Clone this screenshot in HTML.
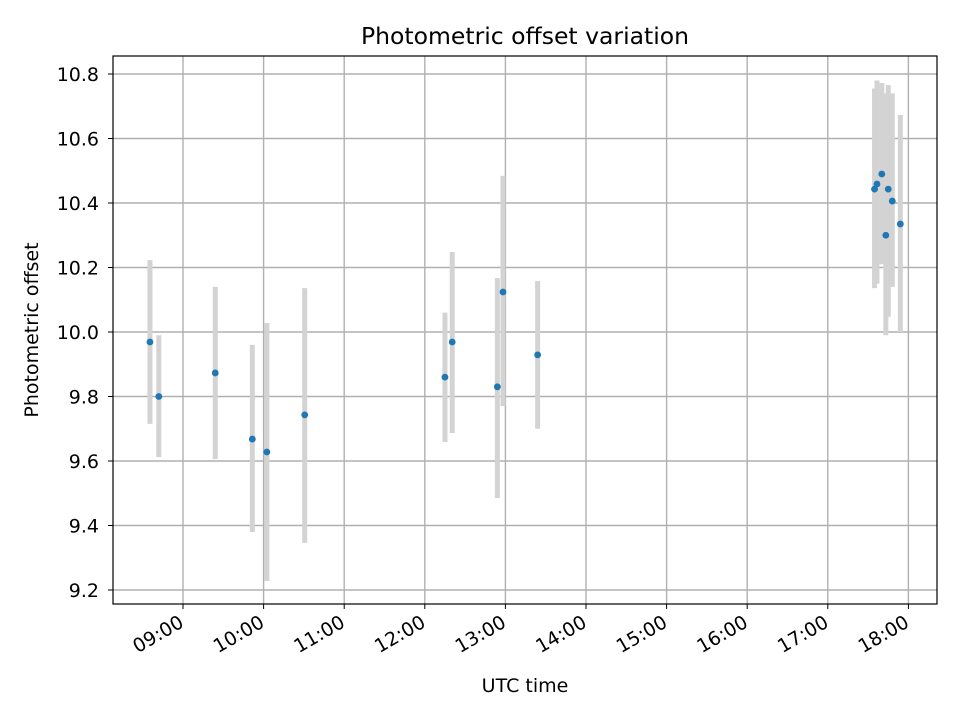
<!DOCTYPE html>
<html><head><meta charset="utf-8"><style>body{margin:0;background:#fff}svg{display:block;font-family:"DejaVu Sans","Liberation Sans",sans-serif}</style></head>
<body>
<svg id="chart" width="960" height="720"></svg>
<script>
const hours=[8.59,8.70,9.40,9.86,10.04,10.51,12.25,12.34,12.90,12.97,13.40,17.58,17.61,17.67,17.72,17.75,17.80,17.90];
const values=[9.969,9.80,9.873,9.668,9.628,9.743,9.86,9.969,9.83,10.124,9.929,10.443,10.459,10.49,10.30,10.443,10.406,10.335];
const highs=[10.223,9.99,10.14,9.96,10.028,10.136,10.06,10.248,10.167,10.484,10.158,10.755,10.78,10.772,10.74,10.766,10.74,10.673];
const lows=[9.715,9.612,9.606,9.38,9.228,9.346,9.659,9.687,9.485,9.77,9.70,10.136,10.15,10.21,9.99,10.047,10.14,10.0];
const xTicks=[9,10,11,12,13,14,15,16,17,18];
const xTickLabels=["09:00","10:00","11:00","12:00","13:00","14:00","15:00","16:00","17:00","18:00"];
const yTicks=[9.2,9.4,9.6,9.8,10.0,10.2,10.4,10.6,10.8];
const NS="http://www.w3.org/2000/svg";const svg=document.getElementById('chart');
const L=113,R=937,T=56,B=604;
const xs=h=>183+(h-9)*80.6;const ys=v=>332-(v-10)*322.5;
function mk(t,a,txt){const e=document.createElementNS(NS,t);for(const k in a)e.setAttribute(k,a[k]);if(txt!==undefined)e.textContent=txt;svg.appendChild(e);return e;}
let e;
e=mk('rect',{x:L,y:T,width:R-L,height:B-T,fill:'#fff'});


xTicks.forEach((h,i)=>{const x=xs(h);
e=mk('line',{x1:x,x2:x,y1:T,y2:B,stroke:'#b0b0b0','stroke-width':1.4});


mk('line',{x1:x,x2:x,y1:B,y2:B+5,stroke:'#000','stroke-width':1});
e=mk('text',{x:x+2,y:B+22,'font-size':19,'text-anchor':'end',transform:`rotate(-30 ${x+2} ${B+22})`},xTickLabels[i]);

});
yTicks.forEach(v=>{const y=ys(v);
e=mk('line',{x1:L,x2:R,y1:y,y2:y,stroke:'#b0b0b0','stroke-width':1.4});


mk('line',{x1:L-5,x2:L,y1:y,y2:y,stroke:'#000','stroke-width':1});
e=mk('text',{x:L-14,y:y+7,'font-size':19,'text-anchor':'end'},v.toFixed(1));

});
hours.forEach((h,i)=>{
e=mk('line',{x1:xs(h),x2:xs(h),y1:ys(highs[i]),y2:ys(lows[i]),stroke:'#d3d3d3','stroke-width':5});

});
hours.forEach((h,i)=>{
e=mk('circle',{cx:xs(h),cy:ys(values[i]),r:3.4,fill:'#1f77b4'});

});
e=mk('rect',{x:L,y:T,width:R-L,height:B-T,fill:'none',stroke:'#000','stroke-width':1.2});


e=mk('text',{x:(L+R)/2,y:44,'font-size':23.5,'text-anchor':'middle'},'Photometric offset variation');


e=mk('text',{x:(L+R)/2,y:692,'font-size':19,'text-anchor':'middle'},'UTC time');


e=mk('text',{x:38,y:330,'font-size':19,'text-anchor':'middle',transform:'rotate(-90 38 330)'},'Photometric offset');


</script>
</body></html>
